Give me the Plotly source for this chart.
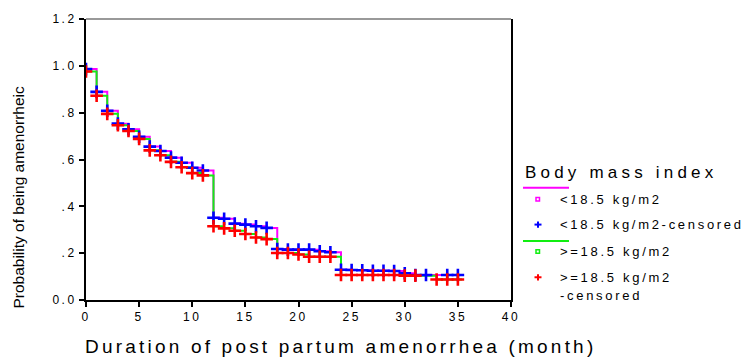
import plotly.graph_objects as go

# ---- data ----
g1_t = [0,1,2,3,4,5,6,7,8,9,10,11,12,13,14,15,16,17,18,19,20,21,22,23,24,25,26,27,28,29,30,31,32,34,35]
g1_s = [0.986,0.889,0.808,0.753,0.729,0.697,0.655,0.636,0.608,0.586,0.565,0.553,0.351,0.347,0.326,0.322,0.315,0.308,
        0.218,0.215,0.215,0.215,0.208,0.204,0.129,0.128,0.127,0.125,0.125,0.124,0.114,0.107,0.107,0.107,0.107]
g1_end = 35.4
g2_t = [0,1,2,3,4,5,6,7,8,9,10,11,12,13,14,15,16,17,18,19,20,21,22,23,24,25,26,27,28,29,30,31,33,34,35]
g2_s = [0.976,0.872,0.795,0.746,0.722,0.688,0.639,0.618,0.590,0.567,0.542,0.532,0.315,0.306,0.296,0.282,0.267,0.260,
        0.201,0.201,0.194,0.185,0.185,0.185,0.107,0.107,0.107,0.107,0.107,0.107,0.104,0.104,0.0875,0.0875,0.0875]
g2_end = 35.4

x_ticks = [0, 5, 10, 15, 20, 25, 30, 35, 40]
y_ticks = [0.0, 0.2, 0.4, 0.6, 0.8, 1.0, 1.2]
y_tick_labels = ["0.0", ".2", ".4", ".6", ".8", "1.0", "1.2"]

legend_title = "Body mass index"
legend_labels = ["<18.5 kg/m2", "<18.5 kg/m2-censored", ">=18.5 kg/m2", ">=18.5 kg/m2", "-censored"]
x_title = "Duration of post partum amenorrhea (month)"
y_title = "Probability of being amenorrheic"

MAG = "#ff00ff"
GRN = "#11ee11"
BLU = "#0000ff"
RED = "#ff0000"
FONT = "Liberation Sans, Arial, sans-serif"
NARROW = "Liberation Sans Narrow, Arial Narrow, sans-serif"

W, H = 751, 361
L, R, T, B = 86, 511, 12, 300  # plot area in pixels

def sp(text, ls):
    return f'<span style="letter-spacing:{ls}px">{text}</span>'

def px(x):
    return (x - L) / (R - L)

def py(y):
    return (B - y) / (B - T)

fig = go.Figure()
fig.add_trace(go.Scatter(x=g1_t + [g1_end], y=g1_s + [g1_s[-1]], mode="lines",
                         line=dict(color=MAG, width=2, shape="hv"), showlegend=False, hoverinfo="skip"))
fig.add_trace(go.Scatter(x=g2_t + [g2_end], y=g2_s + [g2_s[-1]], mode="lines",
                         line=dict(color=GRN, width=2, shape="hv"), showlegend=False, hoverinfo="skip"))
fig.add_trace(go.Scatter(x=g1_t, y=g1_s, mode="markers",
                         marker=dict(symbol="cross-thin", size=9, line=dict(color=BLU, width=2.6)),
                         showlegend=False))
fig.add_trace(go.Scatter(x=g2_t, y=g2_s, mode="markers",
                         marker=dict(symbol="cross-thin", size=9, line=dict(color=RED, width=2.6)),
                         showlegend=False))

fig.update_xaxes(range=[0, 40], tickvals=x_ticks, ticktext=[sp(str(v), 2.5) for v in x_ticks],
                 showline=True, linecolor="black", linewidth=2, ticks="outside", ticklen=5,
                 tickwidth=1.5, tickcolor="black", showgrid=False, zeroline=False,
                 tickfont=dict(family=FONT, size=12, color="black"))
fig.update_yaxes(range=[0, 1.2], tickvals=y_ticks, ticktext=[sp(t, 2.5) for t in y_tick_labels],
                 showline=True, mirror=True, linecolor="black", linewidth=2, ticks="outside", ticklen=5,
                 tickwidth=1.5, tickcolor="black", showgrid=False, zeroline=False,
                 tickfont=dict(family=FONT, size=12, color="black"))

shapes = [
    dict(type="line", xref="paper", yref="paper", x0=0, x1=1, y0=1, y1=1, line=dict(color="#777777", width=1.5)),
    # legend lines
    dict(type="line", xref="paper", yref="paper", x0=px(523), x1=px(569), y0=py(185), y1=py(185), line=dict(color=MAG, width=2)),
    dict(type="line", xref="paper", yref="paper", x0=px(523), x1=px(569), y0=py(239.5), y1=py(239.5), line=dict(color=GRN, width=2)),
    # legend squares
    dict(type="rect", xref="paper", yref="paper", x0=px(536), x1=px(539.5), y0=py(195), y1=py(198.5), line=dict(color=MAG, width=1.5)),
    dict(type="rect", xref="paper", yref="paper", x0=px(536), x1=px(539.5), y0=py(248.5), y1=py(252), line=dict(color=GRN, width=1.5)),
    # legend plus signs
    dict(type="line", xref="paper", yref="paper", x0=px(534.5), x1=px(541.5), y0=py(222.7), y1=py(222.7), line=dict(color=BLU, width=2)),
    dict(type="line", xref="paper", yref="paper", x0=px(538), x1=px(538), y0=py(219.5), y1=py(226), line=dict(color=BLU, width=2)),
    dict(type="line", xref="paper", yref="paper", x0=px(534.5), x1=px(541.5), y0=py(276.7), y1=py(276.7), line=dict(color=RED, width=2)),
    dict(type="line", xref="paper", yref="paper", x0=px(538), x1=px(538), y0=py(273.5), y1=py(280), line=dict(color=RED, width=2)),
]

annotations = [
    dict(text=sp(legend_title, 4.2), x=px(523), y=py(169), xanchor="left", yanchor="middle",
         font=dict(family=FONT, size=17, color="black")),
    dict(text=sp(legend_labels[0], 2.7), x=px(558), y=py(197), xanchor="left", yanchor="middle",
         font=dict(family=FONT, size=13, color="black")),
    dict(text=sp(legend_labels[1], 2.7), x=px(558), y=py(223), xanchor="left", yanchor="middle",
         font=dict(family=FONT, size=13, color="black")),
    dict(text=sp(legend_labels[2], 2.7), x=px(558), y=py(250), xanchor="left", yanchor="middle",
         font=dict(family=FONT, size=13, color="black")),
    dict(text=sp(legend_labels[3], 2.7), x=px(558), y=py(277), xanchor="left", yanchor="middle",
         font=dict(family=FONT, size=13, color="black")),
    dict(text=sp(legend_labels[4], 2.7), x=px(558), y=py(295), xanchor="left", yanchor="middle",
         font=dict(family=FONT, size=13, color="black")),
    dict(text=sp(x_title, 3.2), x=px(340), y=py(348), xanchor="center", yanchor="middle",
         font=dict(family=FONT, size=19, color="black")),
    dict(text=y_title, x=px(19), y=py(195), xanchor="center", yanchor="middle", textangle=-90,
         font=dict(family=NARROW, size=15.5, color="black")),
]
for a in annotations:
    a.update(xref="paper", yref="paper", showarrow=False)

fig.update_layout(width=W, height=H, margin=dict(l=L, r=W - R, t=T, b=H - B),
                  paper_bgcolor="white", plot_bgcolor="white",
                  shapes=shapes, annotations=annotations, showlegend=False)

fig.write_html("out.html")
